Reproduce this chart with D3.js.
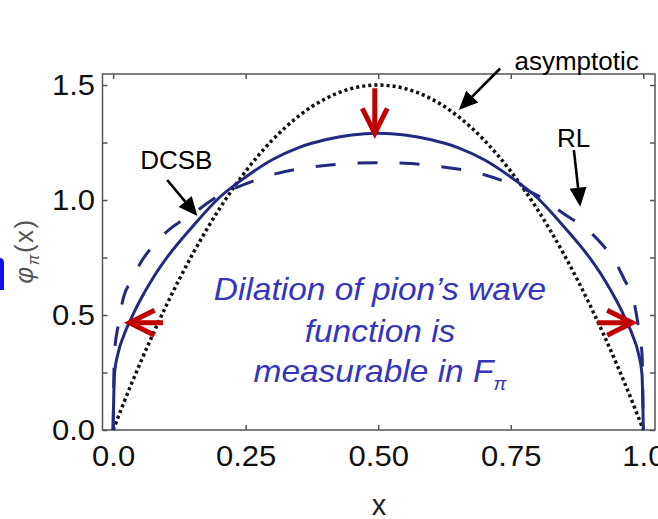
<!DOCTYPE html>
<html>
<head>
<meta charset="utf-8">
<script src="https://cdn.jsdelivr.net/npm/d3@7/dist/d3.min.js"></script>
<style>
  html, body { margin: 0; padding: 0; background: #fff; }
  svg { display: block; font-family: "Liberation Sans", Arial, Helvetica, sans-serif; }
</style>
</head>
<body>
<svg id="chart" width="658" height="519"></svg>
<script>
// valores (curvas simétricas em x <-> 1-x)
const xVals = [0, 0.0025, 0.01, 0.02, 0.035, 0.05, 0.075, 0.1, 0.15, 0.2, 0.25, 0.3, 0.35, 0.4, 0.45, 0.5,
  0.55, 0.6, 0.65, 0.7, 0.75, 0.8, 0.85, 0.9, 0.925, 0.95, 0.965, 0.98, 0.99, 0.9975, 1];
const asymptotic = [0, 0.015, 0.059, 0.118, 0.203, 0.285, 0.416, 0.54, 0.765, 0.96, 1.125, 1.26, 1.365, 1.44, 1.485, 1.5,
  1.485, 1.44, 1.365, 1.26, 1.125, 0.96, 0.765, 0.54, 0.416, 0.285, 0.203, 0.118, 0.059, 0.015, 0];
const dcsb = [0, 0.24, 0.34, 0.41, 0.49, 0.56, 0.66, 0.745, 0.885, 1.01, 1.10, 1.175, 1.228, 1.262, 1.283, 1.29,
  1.283, 1.262, 1.228, 1.175, 1.10, 1.01, 0.885, 0.745, 0.66, 0.56, 0.49, 0.41, 0.34, 0.24, 0];
const rl = [0, 0.33, 0.46, 0.58, 0.65, 0.72, 0.80, 0.86, 0.94, 1.02, 1.07, 1.11, 1.135, 1.15, 1.16, 1.162,
  1.16, 1.15, 1.135, 1.11, 1.07, 1.02, 0.94, 0.86, 0.80, 0.72, 0.65, 0.58, 0.46, 0.33, 0];

const xTicks = [0, 0.25, 0.5, 0.75, 1];
const xTickLabels = ["0.0", "0.25", "0.50", "0.75", "1.0"];
const yTicks = [0, 0.25, 0.5, 0.75, 1, 1.25, 1.5];
const yTickLabels = ["0.0", "", "0.5", "", "1.0", "", "1.5"];

// rótulos com seta preta (coords de dados)
const labels = [
  { text: "asymptotic", tx: 0.757, ty: 1.565, from: [0.730, 1.572], to: [0.652, 1.391] },
  { text: "DCSB", tx: 0.051, ty: 1.137, from: [0.102, 1.087], to: [0.159, 0.930] },
  { text: "RL", tx: 0.837, ty: 1.231, from: [0.869, 1.217], to: [0.881, 0.971] }
];
// setas vermelhas: cauda -> ponta
const redArrows = [
  { from: [0.4935, 1.486], to: [0.4935, 1.29] },
  { from: [0.094, 0.4665], to: [0.031, 0.4665] },
  { from: [0.913, 0.4665], to: [0.979, 0.4665] }
];
const noteLines = ["Dilation of pion\u2019s wave", "function is", "measurable in F"];

const svg = d3.select("#chart");
const x = d3.scaleLinear().domain([-0.02, 1.022]).range([102.5, 655]);
const y = d3.scaleLinear().domain([0, 1.548]).range([430, 74]);

const navy = "#222a80";
const red = "#c00000";
const frameCol = "#555";

// pedaço azul no canto esquerdo (resto do slide)
svg.append("path")
  .attr("d", "M0,258 L1,258 Q4,259 4,263 L4,290 L0,290 Z")
  .attr("fill", "#1010ee");

// eixos
const gx = svg.append("g").attr("transform", `translate(0,${y(0)})`)
  .call(d3.axisBottom(x).tickValues(xTicks).tickSizeInner(-5).tickSizeOuter(0).tickPadding(15)
    .tickFormat((d, i) => xTickLabels[i]));
svg.append("g").attr("transform", `translate(0,${y.range()[1]})`)
  .call(d3.axisTop(x).tickValues(xTicks).tickSizeInner(-5).tickSizeOuter(0).tickFormat(""));
const gy = svg.append("g").attr("transform", `translate(${x.range()[0]},0)`)
  .call(d3.axisLeft(y).tickValues(yTicks).tickSizeInner(-5).tickSizeOuter(0).tickPadding(7)
    .tickFormat((d, i) => yTickLabels[i]));
svg.append("g").attr("transform", `translate(${x.range()[1]},0)`)
  .call(d3.axisRight(y).tickValues(yTicks).tickSizeInner(-5).tickSizeOuter(0).tickFormat(""));

svg.selectAll(".domain").remove();
svg.selectAll(".tick line").attr("stroke", frameCol).attr("stroke-width", 1.5);
svg.selectAll(".tick text")
  .attr("font-size", 29).attr("fill", "#111")
  .style("font-family", "'Liberation Sans', Arial, sans-serif");
gx.selectAll(".tick text").attr("transform", "scale(1.07,1)");
gy.selectAll(".tick text").attr("transform", "scale(1.07,1)").attr("x", -7.5 / 1.07);

svg.append("rect")
  .attr("x", x.range()[0]).attr("y", y.range()[1])
  .attr("width", x.range()[1] - x.range()[0]).attr("height", y(0) - y.range()[1])
  .attr("fill", "none").attr("stroke", frameCol).attr("stroke-width", 1.5);

// títulos dos eixos
svg.append("text")
  .attr("x", 379).attr("y", 515).attr("text-anchor", "middle")
  .attr("font-size", 29).attr("fill", "#222").text("x");

const yt = svg.append("text")
  .attr("transform", "translate(33,251) rotate(-90)")
  .attr("text-anchor", "middle").attr("font-size", 26).attr("fill", "#555")
  .attr("letter-spacing", 1.5);
yt.append("tspan").attr("font-style", "italic").text("\u03c6");
yt.append("tspan").attr("font-size", 16).attr("font-style", "italic").attr("dy", 6).text("\u03c0");
yt.append("tspan").attr("dy", -6).text("(x)");

// curvas
const line = ys => d3.line()
  .x((d, i) => x(xVals[i]))
  .y(d => y(d))
  .curve(d3.curveMonotoneX)(ys);

svg.append("path").attr("d", line(asymptotic))
  .attr("fill", "none").attr("stroke", "#111").attr("stroke-width", 3.5)
  .attr("stroke-dasharray", "3.1,3");
svg.append("path").attr("d", line(rl))
  .attr("fill", "none").attr("stroke", navy).attr("stroke-width", 3)
  .attr("stroke-dasharray", "20,22");
svg.append("path").attr("d", line(dcsb))
  .attr("fill", "none").attr("stroke", navy).attr("stroke-width", 3);

// setas pretas com rótulos
function blackArrow(from, to) {
  const x1 = x(from[0]), y1 = y(from[1]), x2 = x(to[0]), y2 = y(to[1]);
  const ang = Math.atan2(y2 - y1, x2 - x1);
  const headL = 19, headW = 8.5;
  const bx = x2 - headL * Math.cos(ang), by = y2 - headL * Math.sin(ang);
  svg.append("line")
    .attr("x1", x1).attr("y1", y1).attr("x2", bx).attr("y2", by)
    .attr("stroke", "#000").attr("stroke-width", 2.6);
  const px = -Math.sin(ang) * headW, py = Math.cos(ang) * headW;
  svg.append("path")
    .attr("d", `M${x2},${y2} L${bx + px},${by + py} L${bx - px},${by - py} Z`)
    .attr("fill", "#000");
}
labels.forEach(l => {
  blackArrow(l.from, l.to);
  svg.append("text")
    .attr("x", x(l.tx)).attr("y", y(l.ty))
    .attr("font-size", 26).attr("fill", "#000").text(l.text);
});

// setas vermelhas abertas
redArrows.forEach(a => {
  const x1 = x(a.from[0]), y1 = y(a.from[1]), x2 = x(a.to[0]), y2 = y(a.to[1]);
  const ang = Math.atan2(y2 - y1, x2 - x1);
  const headL = 25, headW = 12.5;
  const bx = x2 - headL * Math.cos(ang), by = y2 - headL * Math.sin(ang);
  const px = -Math.sin(ang) * headW, py = Math.cos(ang) * headW;
  svg.append("line")
    .attr("x1", x1).attr("y1", y1).attr("x2", x2 - 2 * Math.cos(ang)).attr("y2", y2 - 2 * Math.sin(ang))
    .attr("stroke", red).attr("stroke-width", 5);
  svg.append("path")
    .attr("d", `M${bx + px},${by + py} L${x2},${y2} L${bx - px},${by - py}`)
    .attr("fill", "none").attr("stroke", red).attr("stroke-width", 5)
    .attr("stroke-linejoin", "miter");
});

// texto azul
const note = svg.append("g").attr("transform", "translate(380,0) scale(1.08,1)");
[300, 341.7, 381.7].forEach((by, i) => {
  const t = note.append("text")
    .attr("x", 0).attr("y", by).attr("text-anchor", "middle")
    .attr("font-size", 31).attr("font-style", "italic").attr("fill", "#3434bc")
    .text(noteLines[i]);
  if (i === 2) {
    t.append("tspan").attr("font-size", 18).attr("dy", 8).text("\u03c0");
  }
});
</script>
</body>
</html>
